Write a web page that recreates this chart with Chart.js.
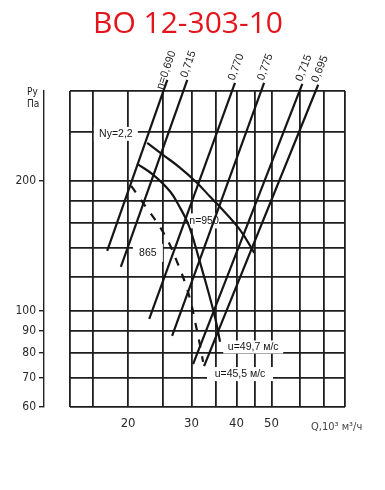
<!DOCTYPE html>
<html>
<head>
<meta charset="utf-8">
<script src="https://cdn.jsdelivr.net/npm/chart.js@4.4.1/dist/chart.umd.min.js"></script>
<style>
    html, body { margin: 0; padding: 0; background: #fff; }
</style>
</head>
<body>
<canvas id="fanChart" width="385" height="490"></canvas>
<script>
// Fan chart ВО 12-303-10, log-log P(Q)

// Axis grid and tick labels
const qGrid = [13.8, 16, 20, 25, 30, 35, 40, 45, 50, 60, 70, 80];
const qTickLabels = [20, 30, 40, 50];
const pGrid = [60, 70, 80, 90, 100, 120, 140, 160, 180, 200, 260, 323];
const pTickLabels = [60, 70, 80, 90, 100, 200];

// Efficiency lines (low end -> top end)
const etaNames = ['η=0,690', '0,715', '0,770', '0,775', '0,715', '0,695'];
const etaLowQ = [17.5, 19.1, 22.9, 26.5, 30.3, 32.5];
const etaLowP = [137.8, 126.5, 95.9, 87.6, 75.4, 74.6];
const etaTopQ = [25.7, 29.2, 39.6, 47.7, 60.9, 67.4];
const etaTopP = [342.6, 342.6, 337.4, 337.4, 335.6, 333.9];

// Power line Nу = 2,2
const nyQ = [22.6, 25.0, 27.9, 31.1, 33.8, 36.0, 40.9, 44.8];
const nyP = [245, 229.9, 214.5, 197.9, 183.8, 174.2, 154.2, 136.4];

// Speed curves
const n950Q = [21.2, 23.5, 26.2, 27.9, 29.2, 30.1, 31.3, 32.7, 34.0, 35.1, 36.0];
const n950P = [219.1, 206.6, 188.8, 173.3, 160.9, 150.1, 134.2, 118.1, 105.0, 94.4, 84.9];
const n865Q = [20.4, 22.3, 24.1, 25.8, 27.3, 28.8, 29.9, 30.7, 31.5, 32.3];
const n865P = [194.9, 175.1, 160.0, 145.4, 130.5, 116.2, 104.5, 94.4, 85.3, 76.3];

const ink = '#151515';
const gridInk = '#1e1e1e';

const pts = (qs, ps) => qs.map((q, i) => ({ x: q, y: ps[i] }));

const curveBase = {
    borderColor: ink,
    borderWidth: 2.2,
    pointRadius: 0,
    fill: false,
    xAxisID: 'x',
    yAxisID: 'y'
};

const datasets = [
    { ...curveBase, label: 'Nу=2,2', data: pts(nyQ, nyP), tension: 0.4 },
    { ...curveBase, label: 'n=950', data: pts(n950Q, n950P), tension: 0.4 },
    { ...curveBase, label: 'n=865', data: pts(n865Q, n865P), tension: 0.4, borderDash: [8, 9] }
];
etaNames.forEach((name, i) => {
    datasets.push({
        ...curveBase,
        label: name,
        data: [{ x: etaLowQ[i], y: etaLowP[i] }, { x: etaTopQ[i], y: etaTopP[i] }],
        clip: false
    });
});

// Text labels on the chart
const annotate = {
    id: 'annotate',
    beforeDatasetsDraw(chart) {
        const { ctx, scales: { x, y } } = chart;
        const boxes = [
            { text: 'Nу=2,2', q: 18.5, p: 257, w: 44, h: 14 },
            { text: 'n=950', q: 32.5, p: 161.7, w: 30, h: 15 },
            { text: '865', q: 22.7, p: 136.4, w: 30, h: 18 },
            { text: 'u=49,7 м/с', q: 44.5, p: 82.6, w: 60, h: 13 },
            { text: 'u=45,5 м/с', q: 40.9, p: 71.5, w: 66, h: 14 }
        ];
        ctx.save();
        ctx.font = '10.5px "Liberation Sans"';
        ctx.textAlign = 'center';
        ctx.textBaseline = 'middle';
        boxes.forEach(b => {
            const cx = x.getPixelForValue(b.q);
            const cy = y.getPixelForValue(b.p);
            ctx.fillStyle = '#fff';
            ctx.fillRect(cx - b.w / 2, cy - b.h / 2, b.w, b.h);
            ctx.fillStyle = ink;
            ctx.fillText(b.text, cx, cy + 0.5);
        });
        ctx.restore();
    },
    afterDraw(chart) {
        const { ctx, scales: { x, y } } = chart;
        ctx.save();
        ctx.fillStyle = '#222';

        // efficiency labels along the line tips
        ctx.font = '11px "Liberation Sans"';
        ctx.textAlign = 'right';
        ctx.textBaseline = 'alphabetic';
        etaNames.forEach((name, i) => {
            const x0 = x.getPixelForValue(etaLowQ[i]), y0 = y.getPixelForValue(etaLowP[i]);
            const x1 = x.getPixelForValue(etaTopQ[i]), y1 = y.getPixelForValue(etaTopP[i]);
            const len = Math.hypot(x1 - x0, y1 - y0);
            const dx = (x1 - x0) / len, dy = (y1 - y0) / len;
            ctx.save();
            ctx.translate(x1 + 29 * dx + 1.2 * dy, y1 + 29 * dy - 1.2 * dx);
            ctx.rotate(Math.atan2(dy, dx));
            ctx.fillText(name, 0, 0);
            ctx.restore();
        });

        // axis names
        ctx.textAlign = 'left';
        ctx.font = '10px "Liberation Sans Narrow", "DejaVu Sans Condensed"';
        ctx.fillText('Ру', 27, 95);
        ctx.fillText('Па', 27, 107);
        ctx.fillStyle = '#444';
        ctx.font = '11px "Liberation Sans Narrow", "DejaVu Sans Condensed"';
        ctx.fillText('Q,10³ м³/ч', 311, 430);
        ctx.restore();
    }
};

const ctx = document.getElementById('fanChart').getContext('2d');
new Chart(ctx, {
    type: 'line',
    data: { datasets: datasets },
    options: {
        responsive: false,
        animation: false,
        events: [],
        layout: { padding: { left: 0, right: 9, top: 0, bottom: 0 } },
        plugins: {
            legend: { display: false },
            tooltip: { enabled: false },
            title: {
                display: true,
                text: 'ВО 12-303-10',
                color: '#e3141b',
                font: { family: 'Open Sans', size: 30, weight: 'normal' },
                padding: { top: 6, bottom: 49 }
            }
        },
        scales: {
            x: {
                type: 'logarithmic',
                min: 13.8,
                max: 80,
                afterBuildTicks: scale => { scale.ticks = qGrid.map(v => ({ value: v })); },
                afterFit: scale => { scale.height = 83; },
                grid: { color: gridInk, lineWidth: 1.8, drawTicks: false },
                border: { display: false },
                ticks: {
                    autoSkip: false,
                    maxRotation: 0,
                    padding: 9,
                    color: '#2a2a2a',
                    font: { family: '"Liberation Sans Narrow", "DejaVu Sans Condensed"', size: 13 },
                    callback: value => qTickLabels.includes(value) ? String(value) : ''
                }
            },
            y: {
                type: 'logarithmic',
                position: 'left',
                weight: 2,
                min: 60,
                max: 323,
                afterBuildTicks: scale => { scale.ticks = pTickLabels.map(v => ({ value: v })); },
                afterFit: scale => { scale.width = 44; },
                grid: { drawOnChartArea: false, drawTicks: true, tickLength: 5, lineWidth: 1.4, color: '#222' },
                border: { display: true, color: '#222', width: 1.4 },
                ticks: {
                    autoSkip: false,
                    padding: 3,
                    color: '#2a2a2a',
                    font: { family: '"Liberation Sans Narrow", "DejaVu Sans Condensed"', size: 12 },
                    callback: value => String(value)
                }
            },
            yg: {
                type: 'logarithmic',
                position: 'left',
                weight: 1,
                min: 60,
                max: 323,
                afterBuildTicks: scale => { scale.ticks = pGrid.map(v => ({ value: v })); },
                afterFit: scale => { scale.width = 26; },
                grid: { color: gridInk, lineWidth: 1.8, drawTicks: false },
                border: { display: false },
                ticks: { display: false }
            },
            yr: {
                type: 'linear',
                position: 'right',
                afterFit: scale => { scale.width = 31; },
                grid: { display: false },
                border: { display: false },
                ticks: { display: false }
            }
        }
    },
    plugins: [annotate]
});
</script>
</body>
</html>
